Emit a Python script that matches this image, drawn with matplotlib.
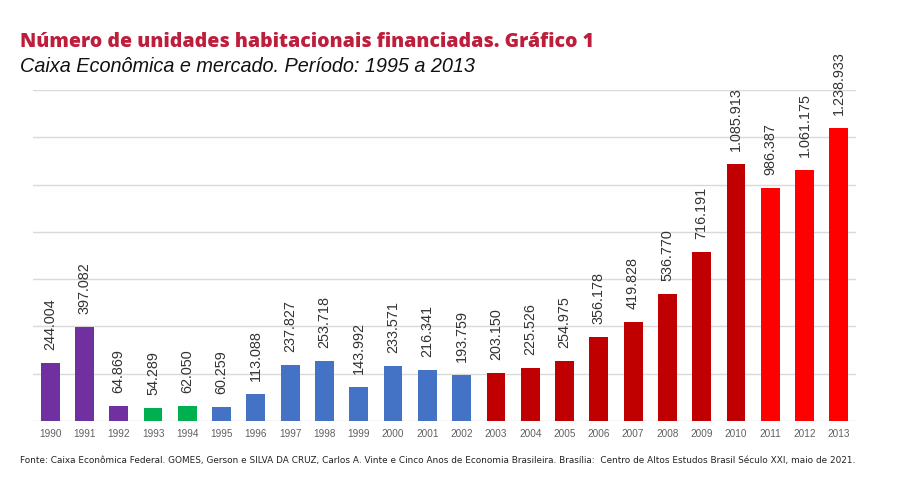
import numpy as np
import matplotlib.pyplot as plt

# %% DATA
years = [str(y) for y in range(1990, 2014)]
units = [244004, 397082, 64869, 54289, 62050, 60259, 113088, 237827, 253718, 143992,
         233571, 216341, 193759, 203150, 225526, 254975, 356178, 419828, 536770, 716191,
         1085913, 986387, 1061175, 1238933]
bar_colors = (['#7030A0'] * 3 + ['#00B050'] * 2 + ['#4472C4'] * 8 +
              ['#C00000'] * 8 + ['#FF0000'] * 3)

def fmt_br(v):
    return f'{v:,}'.replace(',', '.')

# %% PLOT
fig = plt.figure(figsize=(9.06, 4.82), dpi=100)
ax = fig.add_axes([33 / 906, 61 / 482, 823 / 906, 331 / 482])

x = np.arange(len(years))
ax.bar(x, units, width=0.55, color=bar_colors, zorder=3)

for xi, v in zip(x, units):
    ax.annotate(fmt_br(v), (xi, v), xytext=(0, 9.4), textcoords='offset points',
                rotation=90, ha='center', va='bottom', fontsize=10.4,
                color='#333333', family='Liberation Sans',
                annotation_clip=False)

ax.set_xlim(-0.5, len(years) - 0.5)
ax.set_ylim(0, 1400000)
ax.set_yticks(np.arange(0, 1400001, 200000))
ax.yaxis.grid(True, color='#d9d9d9', linewidth=1, zorder=0)
ax.set_yticklabels([])
ax.tick_params(axis='y', length=0)
ax.set_xticks(x)
ax.set_xticklabels(years, fontsize=7.2, color='#606060', family='Liberation Sans')
ax.tick_params(axis='x', length=0, pad=6)
for s in ax.spines.values():
    s.set_visible(False)

fig.text(20 / 906, 1 - 42 / 482, 'Número de unidades habitacionais financiadas. Gráfico 1',
         fontsize=14, fontweight='heavy', color='#BE1E3C', family='Open Sans', va='center')
fig.text(20 / 906, 1 - 67 / 482, 'Caixa Econômica e mercado. Período: 1995 a 2013',
         fontsize=14.3, style='italic', color='#111111', family='Liberation Sans', va='center')
fig.text(20 / 906, 1 - 461 / 482,
         'Fonte: Caixa Econômica Federal. GOMES, Gerson e SILVA DA CRUZ, Carlos A. Vinte e Cinco Anos de Economia Brasileira. Brasília:  Centro de Altos Estudos Brasil Século XXI, maio de 2021.',
         fontsize=6.4, color='#222222', family='Liberation Sans Narrow', va='center')

fig.savefig('out.png', dpi=100)
